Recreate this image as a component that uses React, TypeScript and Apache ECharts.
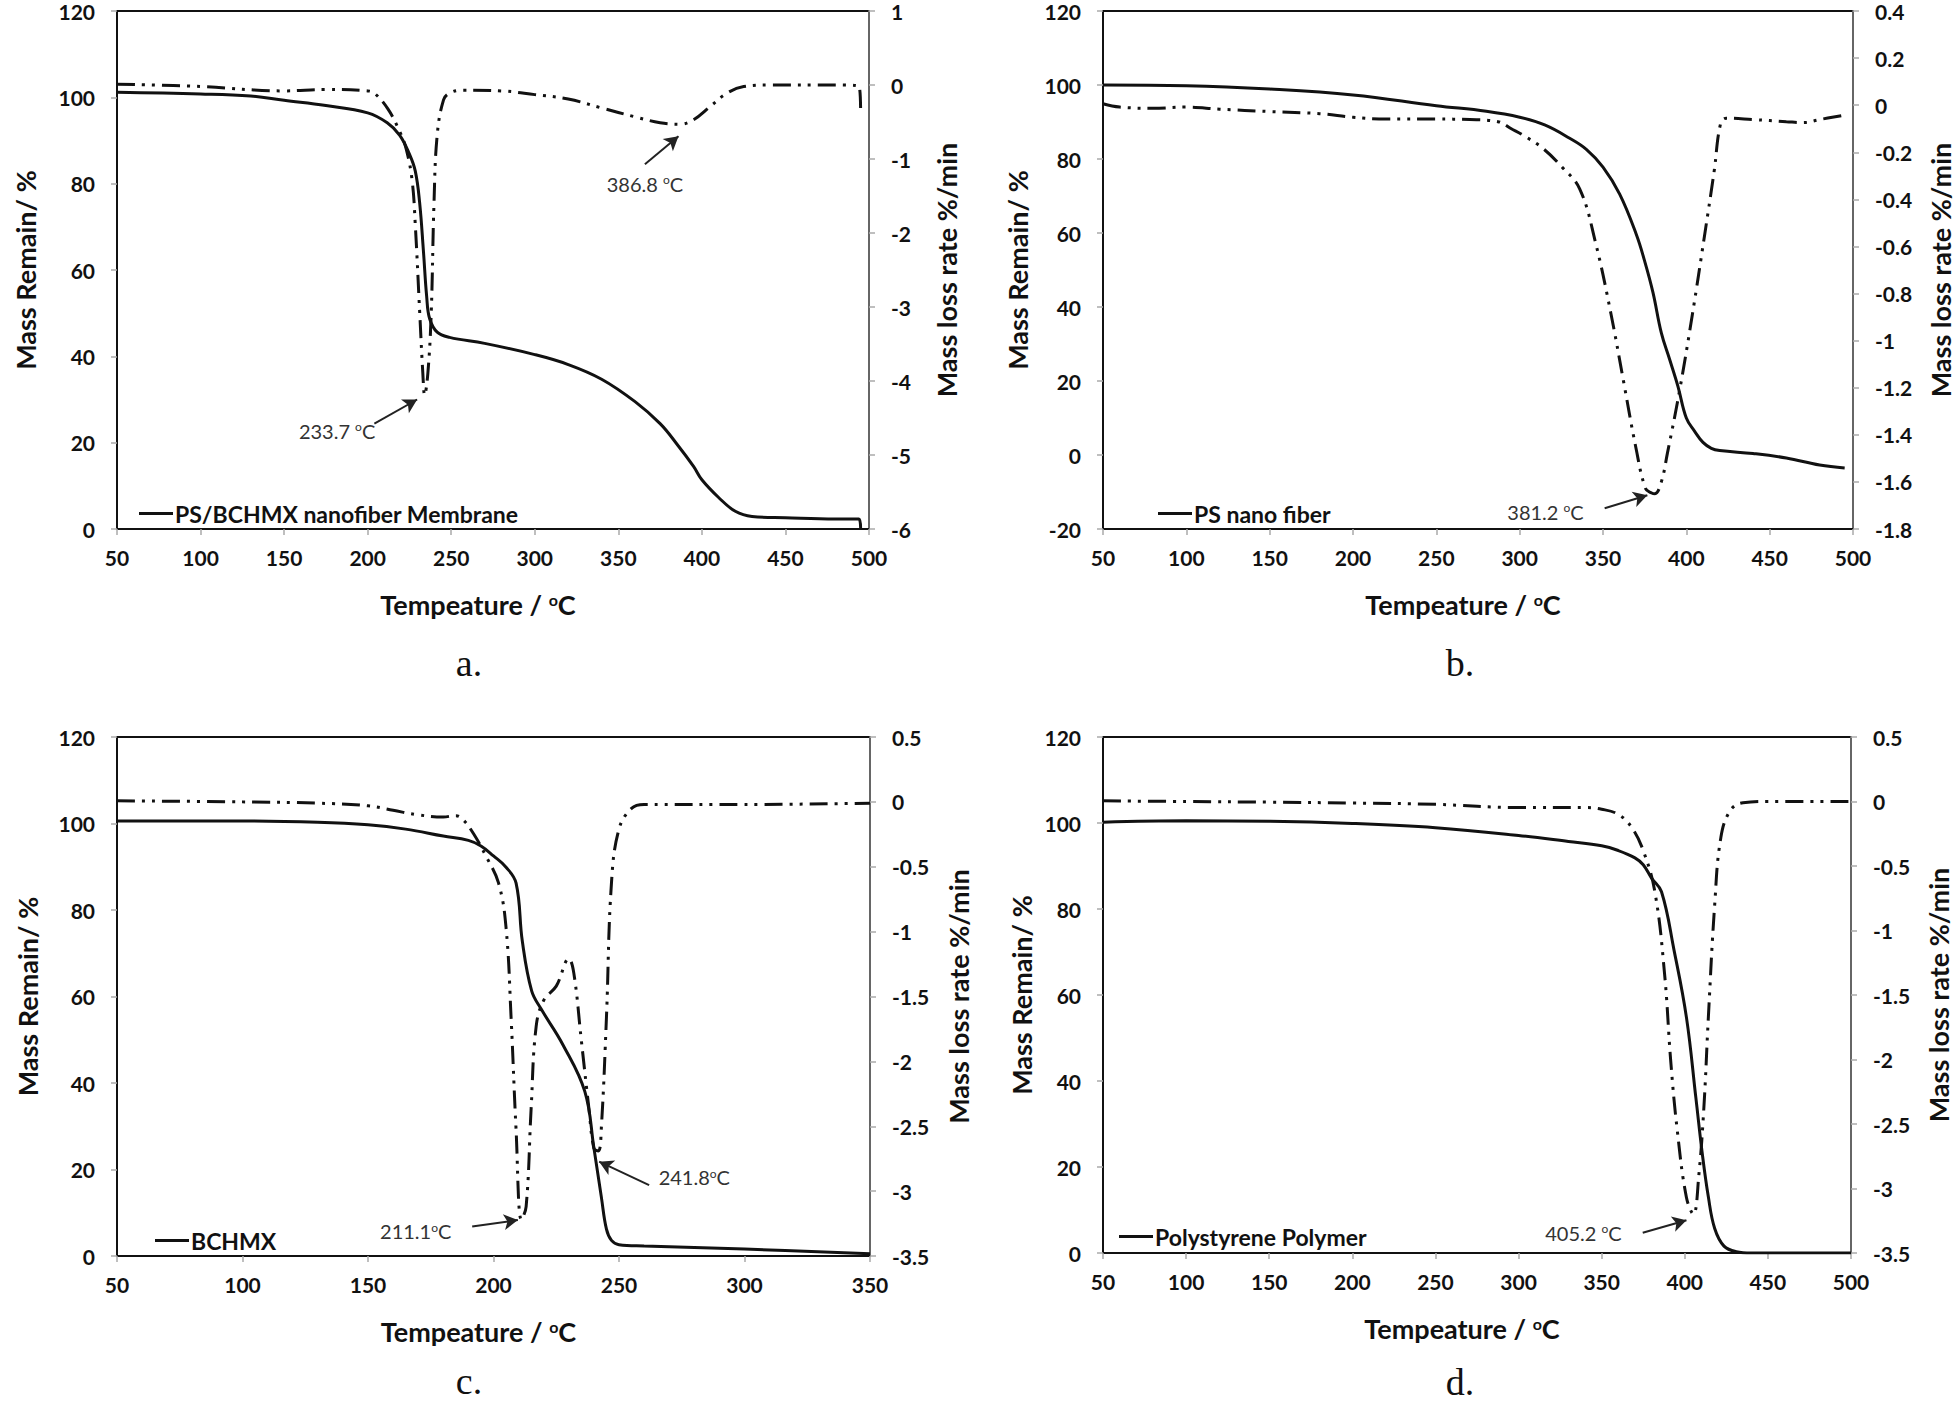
import React, { useEffect, useRef } from "react";
import * as echarts from "echarts";

// ---------- Panel a: PS/BCHMX nanofiber Membrane ----------
const aTgT = [50, 100, 130, 150, 175, 200, 211.7, 219.2, 224.8, 228.5, 231.1, 233.4, 235.3, 237.1, 241.6, 249, 270, 300, 320, 340, 360, 375, 385, 395, 400, 410, 420, 430, 450, 480, 494, 495];
const aTgMass = [101.2, 100.8, 100.3, 99.3, 98.1, 96.4, 94.1, 91.2, 87, 82.9, 75.6, 64.2, 53.9, 48.7, 45.6, 44.4, 43, 40.4, 38.1, 34.7, 29.5, 24.4, 19.7, 14.5, 11.4, 7.3, 4.1, 2.9, 2.6, 2.3, 2.3, 0];
const aDtgT = [50, 100, 150, 175, 200, 204, 212, 219, 223, 226.6, 228.5, 231.2, 233, 234.1, 236, 238, 239.7, 241.6, 245.4, 249, 256.6, 280, 300, 320, 340, 360, 375, 386.8, 395, 405, 415, 425, 440, 480, 494, 495];
const aDtgRate = [0.01, -0.02, -0.08, -0.06, -0.08, -0.11, -0.32, -0.62, -0.86, -1.29, -1.89, -3.1, -3.89, -4.19, -3.9, -3.1, -1.59, -0.68, -0.2, -0.11, -0.07, -0.08, -0.13, -0.19, -0.31, -0.43, -0.51, -0.53, -0.47, -0.29, -0.11, -0.02, 0, 0, -0.02, -0.38];
const aTempAxis = [50, 500, 50];
const aMassAxis = [0, 120, 20];
const aRateAxis = [-6, 1, 1];
const aNotes = [
  { text: "233.7 {s|o}C", at: [181.7, 22.8], from: [204, 24.4], to: [229.6, 30] },
  { text: "386.8 {s|o}C", at: [365.9, 80], from: [365.9, 84.5], to: [386, 91] },
];

// ---------- Panel b: PS nano fiber ----------
const bTgT = [50, 100, 150, 200, 250, 280, 300, 315, 330, 340, 350, 360, 370, 375, 380, 385, 390, 395, 400, 405, 410, 415, 420, 440, 460, 480, 495];
const bTgMass = [100, 99.8, 98.9, 97.3, 94.4, 92.9, 91.3, 89.2, 85.6, 82.6, 77.8, 70.5, 59.6, 52.4, 43.9, 33, 25.8, 18.5, 10, 6.4, 3.4, 1.8, 1.2, 0.4, -0.8, -2.7, -3.5];
const bDtgT = [50, 60, 80, 100, 120, 150, 180, 200, 220, 250, 270, 287, 295, 302, 314, 325, 336, 345.5, 354.8, 362.3, 369.8, 375.5, 379.2, 381.2, 385, 388.6, 396, 403.6, 411, 416.7, 420.5, 424, 440, 460, 470, 480, 495];
const bDtgRate = [0.006, -0.008, -0.013, -0.008, -0.017, -0.027, -0.036, -0.051, -0.059, -0.059, -0.061, -0.07, -0.1, -0.127, -0.184, -0.26, -0.355, -0.583, -0.887, -1.172, -1.457, -1.628, -1.647, -1.65, -1.6, -1.48, -1.21, -0.89, -0.55, -0.28, -0.08, -0.055, -0.061, -0.07, -0.074, -0.061, -0.042];
const bTempAxis = [50, 500, 50];
const bMassAxis = [-20, 120, 20];
const bRateAxis = [-1.8, 0.4, 0.2];
const bNotes = [
  { text: "381.2 {s|o}C", at: [315.5, -15.4], from: [351, -14.4], to: [376.6, -10.9] },
];

// ---------- Panel c: BCHMX ----------
const cTgT = [50, 100, 130, 150, 165, 180, 190, 195, 200, 205, 209, 211.5, 215.2, 219, 227.7, 236.4, 240, 243, 245, 247, 250, 260, 300, 350];
const cTgMass = [100.6, 100.6, 100.3, 99.7, 98.7, 97.1, 96.1, 94.8, 92.5, 89.9, 86.2, 72.7, 61.3, 57.1, 48.8, 38, 25, 13.5, 6.2, 3.6, 2.6, 2.3, 1.6, 0.5];
const cDtgT = [50, 100, 130, 150, 160, 170, 180, 185, 188, 192, 197, 202, 205, 207, 209, 211.1, 213, 215, 217, 220, 225, 230, 232, 235, 238, 240, 241.8, 243, 245, 247, 250, 255, 260, 300, 350];
const cDtgRate = [0.008, 0, -0.01, -0.03, -0.065, -0.1, -0.116, -0.106, -0.14, -0.244, -0.418, -0.625, -0.97, -1.66, -2.53, -3.22, -3.12, -2.36, -1.73, -1.53, -1.42, -1.21, -1.32, -1.84, -2.36, -2.67, -2.69, -2.5, -1.66, -0.625, -0.21, -0.05, -0.02, -0.02, -0.01];
const cTempAxis = [50, 350, 50];
const cMassAxis = [0, 120, 20];
const cRateAxis = [-3.5, 0.5, 0.5];
const cNotes = [
  { text: "211.1{s|o}C", at: [169, 5.7], from: [191.5, 6.8], to: [209.7, 8.3] },
  { text: "241.8{s|o}C", at: [280, 18.2], from: [262, 16.4], to: [242.1, 21.8] },
];

// ---------- Panel d: Polystyrene Polymer ----------
const dTgT = [50, 100, 150, 200, 250, 300, 330, 350, 360, 370, 375, 380, 386, 393.5, 401, 406.7, 410.4, 414.2, 418, 423.6, 431, 440, 500];
const dTgMass = [100.2, 100.5, 100.4, 99.9, 98.9, 97.1, 95.7, 94.7, 93.6, 91.9, 90.3, 87.2, 84, 70.5, 54.8, 36, 23.5, 13, 5.7, 1.6, 0.3, 0, 0];
const dDtgT = [50, 100, 150, 200, 250, 300, 340, 350, 360, 368, 375, 382, 387.8, 391.6, 395.4, 401, 405.2, 408.5, 411.5, 414.2, 418, 421.7, 427.4, 435, 450, 500];
const dDtgRate = [0.005, 0, -0.005, -0.012, -0.022, -0.047, -0.047, -0.06, -0.1, -0.2, -0.38, -0.7, -1.33, -2.02, -2.54, -3.07, -3.2, -2.89, -2.37, -1.67, -0.8, -0.28, -0.07, -0.01, 0, 0];
const dTempAxis = [50, 500, 50];
const dMassAxis = [0, 120, 20];
const dRateAxis = [-3.5, 0.5, 0.5];
const dNotes = [
  { text: "405.2 {s|o}C", at: [339, 4.7], from: [374.7, 4.7], to: [401, 7.6] },
];

const seriesNames = ["PS/BCHMX nanofiber Membrane", "PS nano fiber", "BCHMX", "Polystyrene Polymer"];
const panelLetters = ["a.", "b.", "c.", "d."];

const zip = (xs: number[], ys: number[]) => xs.map((x, i) => [x, ys[i]]);

const FONT = "Lato, 'Open Sans', sans-serif";
const INK = "#111";

const panels = [
  { grid: { left: 117, top: 11, width: 752, height: 518 }, x: aTempAxis, yL: aMassAxis, yR: aRateAxis, tg: zip(aTgT, aTgMass), dtg: zip(aDtgT, aDtgRate), notes: aNotes, legend: [139, 502], gapL: 78, gapR: 64, letter: [469, 663] },
  { grid: { left: 1103, top: 11, width: 750, height: 518 }, x: bTempAxis, yL: bMassAxis, yR: bRateAxis, tg: zip(bTgT, bTgMass), dtg: zip(bDtgT, bDtgRate), notes: bNotes, legend: [1158, 502], gapL: 72, gapR: 74, letter: [1460, 663] },
  { grid: { left: 117, top: 737, width: 753, height: 519 }, x: cTempAxis, yL: cMassAxis, yR: cRateAxis, tg: zip(cTgT, cTgMass), dtg: zip(cDtgT, cDtgRate), notes: cNotes, legend: [155, 1229], gapL: 76, gapR: 75, letter: [469, 1381] },
  { grid: { left: 1103, top: 737, width: 748, height: 516 }, x: dTempAxis, yL: dMassAxis, yR: dRateAxis, tg: zip(dTgT, dTgMass), dtg: zip(dDtgT, dDtgRate), notes: dNotes, legend: [1119, 1225], gapL: 68, gapR: 74, letter: [1460, 1382] },
];

const tickLabel = { fontFamily: FONT, fontWeight: "bold" as const, fontSize: 21, color: INK };
const axisTitle = { fontFamily: FONT, fontWeight: "bold" as const, fontSize: 27, color: INK };

function buildOption() {
  const yAxis: any[] = [];
  panels.forEach((p, i) => {
    yAxis.push({
      type: "value", gridIndex: i, position: "left", min: p.yL[0], max: p.yL[1], interval: p.yL[2],
      name: "Mass Remain/ %", nameLocation: "middle", nameGap: p.gapL, nameRotate: 90,
      nameTextStyle: axisTitle,
      axisLine: { show: true, onZero: false, lineStyle: { color: INK, width: 2 } },
      axisTick: { show: true, length: 6, lineStyle: { color: "#aaa", width: 1.5 } },
      axisLabel: { ...tickLabel, margin: 22 },
      splitLine: { show: false },
    });
    yAxis.push({
      type: "value", gridIndex: i, position: "right", min: p.yR[0], max: p.yR[1], interval: p.yR[2],
      name: "Mass loss rate %/min", nameLocation: "middle", nameGap: p.gapR, nameRotate: 90,
      nameTextStyle: axisTitle,
      axisLine: { show: true, onZero: false, lineStyle: { color: "#666", width: 2 } },
      axisTick: { show: true, length: 6, lineStyle: { color: "#aaa", width: 1.5 } },
      axisLabel: { ...tickLabel, margin: 22 },
      splitLine: { show: false },
    });
  });

  const series: any[] = [];
  panels.forEach((p, i) => {
    series.push({
      type: "line", name: seriesNames[i], xAxisIndex: i, yAxisIndex: 2 * i,
      data: p.tg, symbol: "none", smooth: 0.4,
      lineStyle: { color: INK, width: 3 }, itemStyle: { color: INK },
      z: 3,
      markLine: {
        silent: true, symbol: ["none", "arrow"], symbolSize: [12, 14],
        lineStyle: { type: "solid", color: "#222", width: 2 },
        label: { show: false },
        data: p.notes.map((n) => [{ coord: n.from }, { coord: n.to }]),
      },
      markPoint: {
        silent: true,
        data: p.notes.map((n) => ({
          coord: n.at, symbol: "rect", symbolSize: 1, itemStyle: { color: "rgba(0,0,0,0)" },
          label: {
            show: true, position: "inside", formatter: n.text,
            fontFamily: FONT, fontSize: 20, color: "#333",
            rich: { s: { fontFamily: FONT, fontSize: 12, color: "#333", verticalAlign: "top", lineHeight: 12 } },
          },
        })),
      },
    });
    series.push({
      type: "line", name: "DTG " + panelLetters[i], xAxisIndex: i, yAxisIndex: 2 * i + 1,
      data: p.dtg, symbol: "none", smooth: 0.4,
      lineStyle: { color: INK, width: 3, type: [18, 7, 3, 7, 3, 7] }, itemStyle: { color: INK },
      z: 2,
    });
  });

  return {
    animation: false,
    backgroundColor: "#fff",
    grid: panels.map((p) => ({ ...p.grid, show: true, borderColor: INK, borderWidth: 2, backgroundColor: "rgba(0,0,0,0)" })),
    xAxis: panels.map((p, i) => ({
      type: "value", gridIndex: i, min: p.x[0], max: p.x[1], interval: p.x[2],
      name: "Tempeature / {s|o}C", nameLocation: "middle", nameGap: 62,
      nameTextStyle: {
        ...axisTitle, padding: [0, 30, 0, 0],
        rich: { s: { fontFamily: FONT, fontWeight: "bold", fontSize: 16, color: INK, verticalAlign: "top", lineHeight: 16 } },
      },
      axisLine: { show: true, onZero: false, lineStyle: { color: INK, width: 2 } },
      axisTick: { show: true, length: 6, lineStyle: { color: "#aaa", width: 1.5 } },
      axisLabel: { ...tickLabel, margin: 18 },
      splitLine: { show: false },
    })),
    yAxis,
    legend: panels.map((p, i) => ({
      data: [seriesNames[i]], left: p.legend[0], top: p.legend[1], padding: 0,
      icon: "rect", itemWidth: 34, itemHeight: 3, selectedMode: false,
      itemStyle: { color: INK },
      lineStyle: { color: INK, width: 3 },
      textStyle: { fontFamily: FONT, fontWeight: "bold", fontSize: 23, color: INK, padding: [0, 0, 0, -3] },
    })),
    graphic: panels.map((p, i) => ({
      type: "text", x: p.letter[0], y: p.letter[1],
      style: { text: panelLetters[i], fontFamily: "'Liberation Serif', serif", fontSize: 38, lineHeight: 30, fill: INK, align: "center", verticalAlign: "middle" },
    })),
    series,
  };
}

export default function App() {
  const ref = useRef<HTMLDivElement>(null);
  useEffect(() => {
    if (!ref.current) return;
    const chart = echarts.init(ref.current, undefined, { renderer: "svg" });
    chart.setOption(buildOption() as any);
    return () => chart.dispose();
  }, []);
  return <div ref={ref} style={{ position: "fixed", left: 0, top: 0, width: 1959, height: 1408, background: "#fff" }} />;
}
